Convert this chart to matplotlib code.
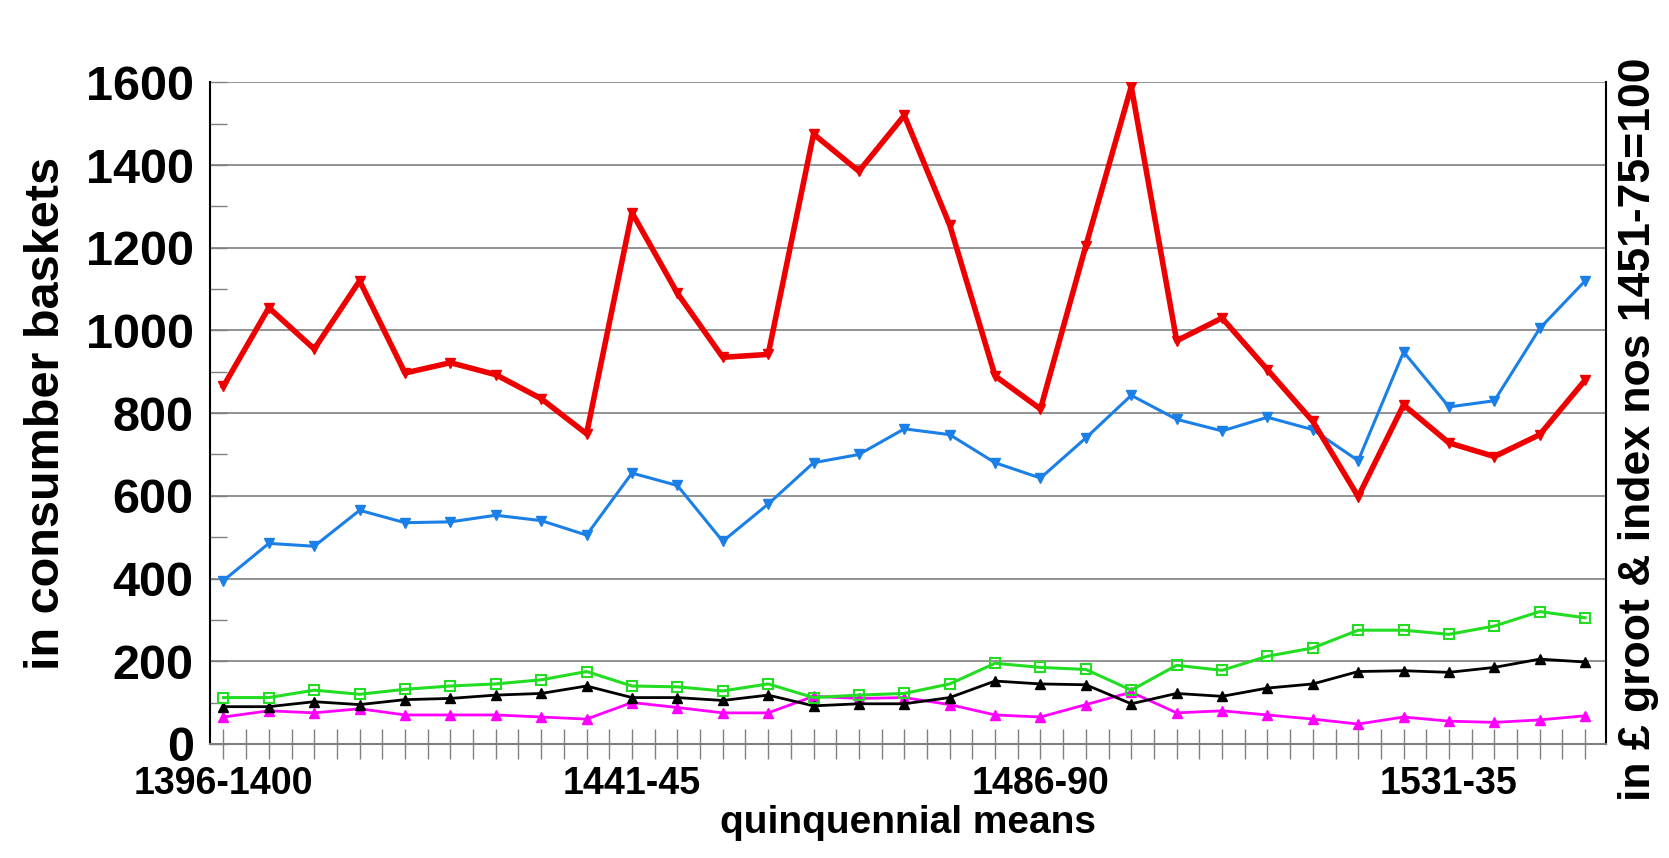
import numpy as np
import matplotlib
matplotlib.use('Agg')
import matplotlib.pyplot as plt
from matplotlib.ticker import MultipleLocator

plt.rcParams['font.family'] = ['Liberation Sans', 'DejaVu Sans']

# quinquennial means, 1396-1400 .. 1546-50
periods = [f'{y}-{(y + 4) % 100:02d}' if y != 1396 else '1396-1400'
           for y in range(1396, 1551, 5)]
label_every = 9

red = [865, 1055, 955, 1120, 897, 922, 893, 835, 750, 1285, 1090, 935, 942,
       1475, 1385, 1520, 1255, 890, 810, 1205, 1590, 975, 1030, 905, 780,
       598, 820, 728, 695, 748, 880]
blue = [395, 485, 478, 565, 535, 537, 553, 540, 505, 655, 625, 490, 580, 680,
        700, 762, 748, 680, 643, 740, 843, 785, 757, 790, 760, 685, 948, 815,
        830, 1005, 1120]
green = [112, 112, 130, 120, 132, 140, 145, 155, 175, 140, 138, 128, 145, 112,
         118, 122, 145, 195, 185, 180, 130, 190, 178, 212, 232, 275, 275, 265,
         285, 320, 305]
black = [90, 90, 102, 95, 107, 110, 118, 122, 140, 112, 112, 105, 118, 92, 97,
         97, 112, 152, 145, 143, 97, 122, 115, 135, 145, 175, 177, 173, 185,
         205, 198]
magenta = [65, 80, 75, 85, 70, 70, 70, 65, 60, 100, 88, 75, 75, 115, 110, 112,
           95, 70, 65, 95, 125, 75, 80, 70, 60, 48, 65, 55, 52, 58, 68]

x = np.arange(len(periods))

fig = plt.figure(figsize=(16.69, 8.58), dpi=100)
ax = fig.add_axes([0.126, 0.133, 0.836, 0.771])

ax.grid(axis='y', color='#808080', lw=1.2, zorder=0)
ax.plot(x, magenta, color='#ff00ff', lw=2, marker='^', ms=7, zorder=3)
ax.plot(x, black, color='black', lw=2, marker='^', ms=7, zorder=3)
ax.plot(x, green, color='#22dd22', lw=2.2, marker='s', ms=7, mfc='none',
        mew=1.5, zorder=3)
ax.plot(x, blue, color='#1a7fe6', lw=2.2, marker='v', ms=7, zorder=4)
ax.plot(x, red, color='#ee0000', lw=4, marker='v', ms=7, zorder=5)

ax.set_xlim(-0.29, 30.45)
ax.set_ylim(0, 1600)
ax.set_xticks(x[::label_every])
ax.set_xticklabels(periods[::label_every])
ax.xaxis.set_minor_locator(MultipleLocator(0.5))
ax.yaxis.set_major_locator(MultipleLocator(200))
ax.yaxis.set_minor_locator(MultipleLocator(100))
ax.tick_params(axis='x', which='both', direction='inout', length=22,
               width=1, color='#808080', labelsize=27, pad=5)
ax.tick_params(axis='y', which='both', direction='in', length=12,
               width=1, color='#808080', labelsize=35, pad=12)
for lab in ax.get_xticklabels() + ax.get_yticklabels():
    lab.set_fontweight('bold')
for sp in ax.spines.values():
    sp.set_color('black')
    sp.set_linewidth(1.5)
ax.spines['top'].set_visible(False)
ax.spines['bottom'].set_color('#808080')

ax.set_xlabel('quinquennial means', fontsize=28, fontweight='bold', labelpad=2)
ax.set_ylabel('in consumber baskets', fontsize=35, fontweight='bold', labelpad=12)
fig.text(0.982, 0.5, 'in £ groot & index nos 1451-75=100', rotation=90,
         ha='center', va='center', fontsize=32, fontweight='bold')

fig.savefig('out.png', dpi=100, facecolor='white')
